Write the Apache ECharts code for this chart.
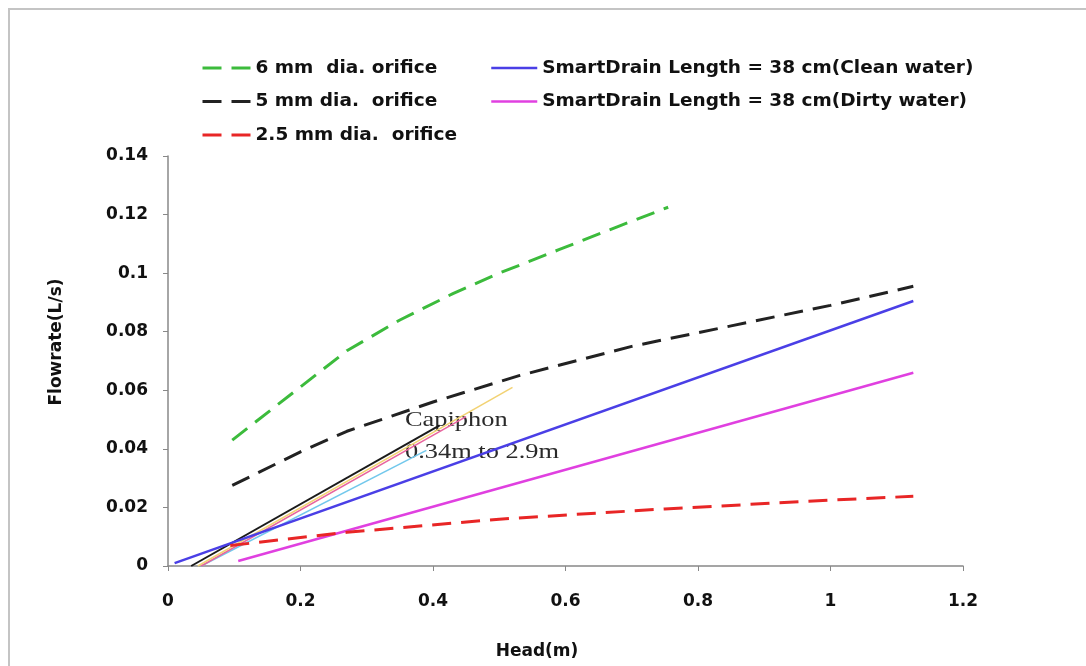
<!DOCTYPE html>
<html>
<head>
<meta charset="utf-8">
<script src="https://cdn.jsdelivr.net/npm/echarts@6/dist/echarts.min.js"></script>
<style>
  html, body { margin: 0; padding: 0; background: #fff; }
  #chart { width: 1086px; height: 666px; }
</style>
</head>
<body>
<div id="chart"></div>
<script>
// orifice curves (head m, flowrate L/s)
const head6mm = [0.097, 0.27, 0.35, 0.43, 0.5, 0.59, 0.68, 0.755]
const flow6mm = [0.043, 0.0735, 0.084, 0.093, 0.1, 0.108, 0.116, 0.1225]
const head5mm = [0.097, 0.2, 0.27, 0.4, 0.53, 0.7, 0.85, 1.0, 1.125]
const flow5mm = [0.0275, 0.039, 0.046, 0.056, 0.065, 0.075, 0.082, 0.089, 0.0955]
const head25mm = [0.094, 0.27, 0.5, 0.75, 1.0, 1.125]
const flow25mm = [0.007, 0.0115, 0.016, 0.0195, 0.0225, 0.0238]

// SmartDrain
const headClean = [0.01, 1.125]
const flowClean = [0.001, 0.0905]
const headDirty = [0.106, 1.125]
const flowDirty = [0.0017, 0.066]

// Capiphon lines
const capHeadBlack = [0.035, 0.41]
const capFlowBlack = [0, 0.048]
const capHeadYellow = [0.045, 0.52]
const capFlowYellow = [0, 0.061]
const capHeadPink = [0.05, 0.45]
const capFlowPink = [0, 0.051]
const capHeadCyan = [0.05, 0.39]
const capFlowCyan = [0, 0.0395]

const xTicks = [0, 0.2, 0.4, 0.6, 0.8, 1, 1.2]
const yTicks = [0, 0.02, 0.04, 0.06, 0.08, 0.1, 0.12, 0.14]

function zip(xs, ys) {
    let arr = []
    for (let i = 0, l = xs.length; i < l; i++) {
        arr.push([xs[i], ys[i]])
    }
    return arr
}

const boldFont = 'DejaVu Sans'
const dash = [19, 10]

function lineSeries(name, xs, ys, color, width, type) {
    return {
        name: name,
        type: 'line',
        data: zip(xs, ys),
        symbol: 'none',
        silent: true,
        lineStyle: { color: color, width: width, type: type || 'solid' },
        itemStyle: { color: color }
    }
}

let legendText = { fontFamily: boldFont, fontWeight: 'bold', fontSize: 18.5, color: '#111', lineHeight: 20 }

let chart = echarts.init(document.getElementById('chart'))

let option = {
    backgroundColor: '#fff',
    animation: false,
    grid: { left: 168, right: 123, top: 156, bottom: 100 },
    legend: [{
        orient: 'vertical',
        left: 196,
        top: 53,
        itemWidth: 48,
        itemHeight: 14,
        itemGap: 13.5,
        data: ['6 mm  dia. orifice', '5 mm dia.  orifice', '2.5 mm dia.  orifice'],
        itemStyle: { opacity: 0 },
        lineStyle: { type: dash, width: 3 },
        textStyle: legendText
    }, {
        orient: 'vertical',
        left: 485,
        top: 53,
        itemWidth: 46,
        itemHeight: 14,
        itemGap: 13.5,
        data: ['SmartDrain Length = 38 cm(Clean water)', 'SmartDrain Length = 38 cm(Dirty water)'],
        itemStyle: { opacity: 0 },
        lineStyle: { type: 'solid', width: 2.5 },
        textStyle: legendText
    }],
    xAxis: {
        type: 'value',
        min: xTicks[0],
        max: xTicks[xTicks.length - 1],
        interval: 0.2,
        axisLine: { lineStyle: { color: '#888', width: 1.5 } },
        axisTick: { show: true, length: 5, lineStyle: { color: '#888' } },
        axisLabel: { margin: 27, fontFamily: boldFont, fontWeight: 'bold', fontSize: 17, color: '#111' },
        splitLine: { show: false }
    },
    yAxis: {
        type: 'value',
        min: yTicks[0],
        max: yTicks[yTicks.length - 1],
        interval: 0.02,
        axisLine: { show: true, lineStyle: { color: '#888', width: 1.5 } },
        axisTick: { show: true, length: 5, lineStyle: { color: '#888' } },
        axisLabel: { margin: 20, fontFamily: boldFont, fontWeight: 'bold', fontSize: 17, color: '#111' },
        splitLine: { show: false }
    },
    series: [
        lineSeries('capiphon-cyan', capHeadCyan, capFlowCyan, '#72c8ec', 1.5),
        lineSeries('capiphon-pink', capHeadPink, capFlowPink, '#e8649e', 1.5),
        lineSeries('capiphon-yellow', capHeadYellow, capFlowYellow, '#f2d273', 1.5),
        lineSeries('capiphon-black', capHeadBlack, capFlowBlack, '#1a1a1a', 2),
        lineSeries('SmartDrain Length = 38 cm(Clean water)', headClean, flowClean, '#4a3fe6', 2.5),
        lineSeries('SmartDrain Length = 38 cm(Dirty water)', headDirty, flowDirty, '#e040e0', 2.5),
        lineSeries('6 mm  dia. orifice', head6mm, flow6mm, '#3cbb3c', 3, dash),
        lineSeries('5 mm dia.  orifice', head5mm, flow5mm, '#222222', 3, dash),
        lineSeries('2.5 mm dia.  orifice', head25mm, flow25mm, '#e82626', 3, dash)
    ],
    graphic: [{
        type: 'rect',
        silent: true,
        shape: { x: 9, y: 9, width: 1100, height: 700 },
        style: { fill: 'none', stroke: '#c4c4c4', lineWidth: 2 }
    }, {
        // axis titles
        type: 'text',
        x: 57,
        y: 342,
        rotation: Math.PI / 2,
        style: {
            text: 'Flowrate(L/s)', fill: '#111', align: 'center', verticalAlign: 'middle',
            font: 'bold 17px "DejaVu Sans"'
        }
    }, {
        type: 'text',
        x: 537,
        y: 652,
        style: {
            text: 'Head(m)', fill: '#111', align: 'center', verticalAlign: 'middle',
            font: 'bold 17px "DejaVu Sans"'
        }
    }, {
        type: 'text',
        x: 405,
        y: 420,
        scaleX: 1.2,
        style: { text: 'Capiphon', font: '22px "Liberation Serif"', fill: '#2a2a2a', verticalAlign: 'middle' }
    }, {
        type: 'text',
        x: 405,
        y: 452,
        scaleX: 1.2,
        style: { text: '0.34m to 2.9m', font: '22px "Liberation Serif"', fill: '#2a2a2a', verticalAlign: 'middle' }
    }]
}

chart.setOption(option)
</script>
</body>
</html>
